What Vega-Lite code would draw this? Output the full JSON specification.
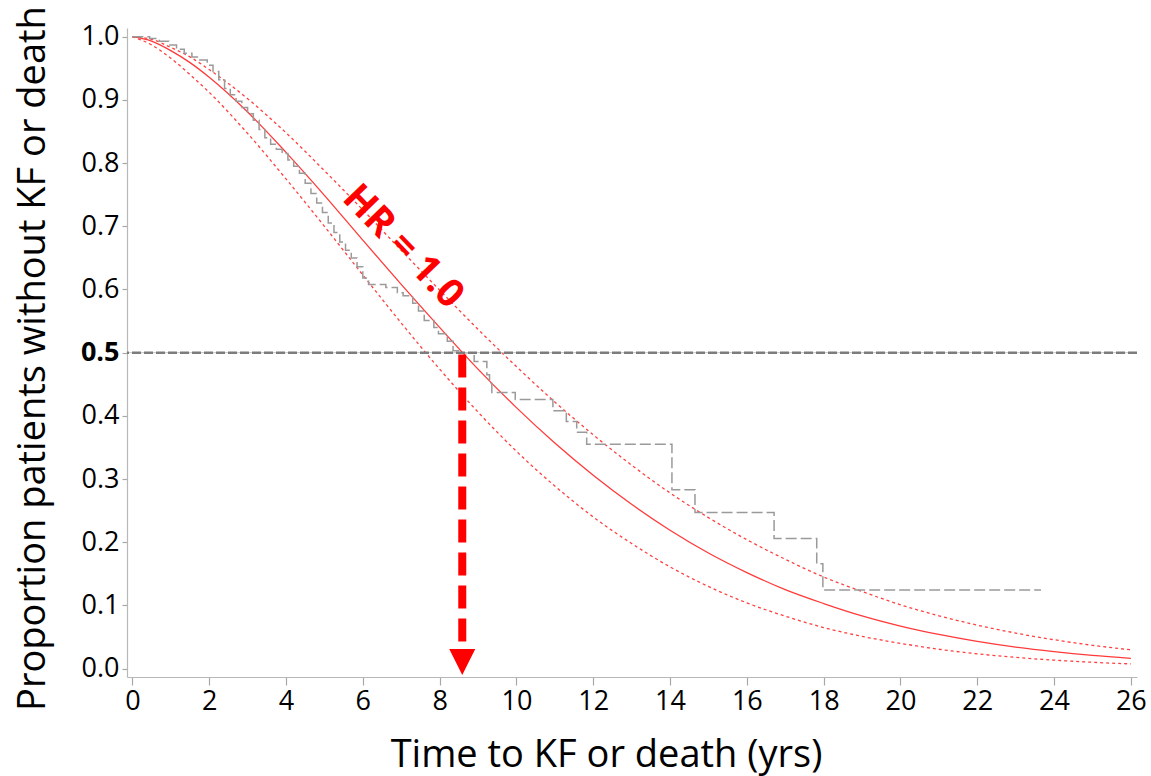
{
  "$schema": "https://vega.github.io/schema/vega-lite/v6.json",
  "width": 1010,
  "height": 649,
  "autosize": {"type": "none"},
  "padding": {"left": 127, "top": 28, "right": 14, "bottom": 99},
  "background": "white",
  "config": {
    "view": {"stroke": null},
    "font": "Open Sans",
    "axis": {
      "grid": false,
      "domainColor": "#b8b8b8",
      "domainWidth": 1.2,
      "tickColor": "#a8a8a8",
      "tickWidth": 1.2,
      "labelColor": "#000000",
      "titleColor": "#000000",
      "labelFont": "Open Sans",
      "titleFont": "Open Sans",
      "labelFontSize": 27,
      "titleFontSize": 38,
      "titleFontWeight": "normal",
      "labelOverlap": false,
      "labelFlush": false
    }
  },
  "datasets": {
    "km": [
      {"t": 0, "S": 1.0}, {"t": 0.45, "S": 0.997}, {"t": 0.7, "S": 0.993}, {"t": 0.95, "S": 0.987},
      {"t": 1.15, "S": 0.98}, {"t": 1.35, "S": 0.974}, {"t": 1.55, "S": 0.968}, {"t": 1.75, "S": 0.963},
      {"t": 1.95, "S": 0.955}, {"t": 2.1, "S": 0.945}, {"t": 2.25, "S": 0.932}, {"t": 2.4, "S": 0.918},
      {"t": 2.55, "S": 0.908}, {"t": 2.7, "S": 0.898}, {"t": 2.85, "S": 0.888}, {"t": 3.0, "S": 0.878},
      {"t": 3.15, "S": 0.868}, {"t": 3.3, "S": 0.853}, {"t": 3.45, "S": 0.84}, {"t": 3.6, "S": 0.83},
      {"t": 3.75, "S": 0.822}, {"t": 3.9, "S": 0.815}, {"t": 4.05, "S": 0.805}, {"t": 4.2, "S": 0.795},
      {"t": 4.35, "S": 0.784}, {"t": 4.5, "S": 0.768}, {"t": 4.65, "S": 0.752}, {"t": 4.8, "S": 0.737},
      {"t": 4.95, "S": 0.722}, {"t": 5.1, "S": 0.705}, {"t": 5.25, "S": 0.69}, {"t": 5.4, "S": 0.675},
      {"t": 5.55, "S": 0.662}, {"t": 5.7, "S": 0.65}, {"t": 5.85, "S": 0.636}, {"t": 6.0, "S": 0.618},
      {"t": 6.15, "S": 0.608}, {"t": 6.6, "S": 0.603}, {"t": 6.9, "S": 0.595}, {"t": 7.05, "S": 0.59},
      {"t": 7.3, "S": 0.578}, {"t": 7.45, "S": 0.566}, {"t": 7.6, "S": 0.551}, {"t": 7.85, "S": 0.54},
      {"t": 7.97, "S": 0.53}, {"t": 8.2, "S": 0.518}, {"t": 8.35, "S": 0.503}, {"t": 8.55, "S": 0.5},
      {"t": 8.9, "S": 0.486}, {"t": 9.23, "S": 0.465}, {"t": 9.3, "S": 0.451}, {"t": 9.36, "S": 0.437},
      {"t": 9.97, "S": 0.426}, {"t": 10.95, "S": 0.408}, {"t": 11.3, "S": 0.391}, {"t": 11.57, "S": 0.374},
      {"t": 11.83, "S": 0.355}, {"t": 14.05, "S": 0.283}, {"t": 14.65, "S": 0.247}, {"t": 16.71, "S": 0.206},
      {"t": 17.82, "S": 0.166}, {"t": 17.98, "S": 0.1245}, {"t": 23.66, "S": 0.1245}
    ],
    "model": [
      {"t": 0, "fit": 1.0, "upper": 1.0, "lower": 1.0},
      {"t": 0.5, "fit": 0.993, "upper": 0.996, "lower": 0.987},
      {"t": 1, "fit": 0.978, "upper": 0.983, "lower": 0.966},
      {"t": 1.5, "fit": 0.959, "upper": 0.968, "lower": 0.940},
      {"t": 2, "fit": 0.936, "upper": 0.948, "lower": 0.912},
      {"t": 3, "fit": 0.881, "upper": 0.902, "lower": 0.847},
      {"t": 4, "fit": 0.817, "upper": 0.848, "lower": 0.775},
      {"t": 5, "fit": 0.749, "upper": 0.788, "lower": 0.700},
      {"t": 6, "fit": 0.678, "upper": 0.726, "lower": 0.623},
      {"t": 7, "fit": 0.608, "upper": 0.662, "lower": 0.547},
      {"t": 8, "fit": 0.540, "upper": 0.599, "lower": 0.474},
      {"t": 9, "fit": 0.474, "upper": 0.537, "lower": 0.406},
      {"t": 10, "fit": 0.413, "upper": 0.478, "lower": 0.344},
      {"t": 11, "fit": 0.357, "upper": 0.422, "lower": 0.289},
      {"t": 12, "fit": 0.306, "upper": 0.370, "lower": 0.240},
      {"t": 13, "fit": 0.260, "upper": 0.322, "lower": 0.198},
      {"t": 14, "fit": 0.219, "upper": 0.278, "lower": 0.161},
      {"t": 15, "fit": 0.183, "upper": 0.239, "lower": 0.130},
      {"t": 16, "fit": 0.152, "upper": 0.204, "lower": 0.104},
      {"t": 17, "fit": 0.125, "upper": 0.173, "lower": 0.083},
      {"t": 18, "fit": 0.103, "upper": 0.145, "lower": 0.065},
      {"t": 19, "fit": 0.0835, "upper": 0.122, "lower": 0.051},
      {"t": 20, "fit": 0.0674, "upper": 0.101, "lower": 0.040},
      {"t": 21, "fit": 0.0541, "upper": 0.0836, "lower": 0.0306},
      {"t": 22, "fit": 0.0431, "upper": 0.0688, "lower": 0.0234},
      {"t": 23, "fit": 0.0341, "upper": 0.0562, "lower": 0.0177},
      {"t": 24, "fit": 0.0269, "upper": 0.0457, "lower": 0.0134},
      {"t": 25, "fit": 0.021, "upper": 0.0369, "lower": 0.010},
      {"t": 26, "fit": 0.0163, "upper": 0.0297, "lower": 0.0074}
    ],
    "one": [{}]
  },
  "encoding": {
    "x": {
      "type": "quantitative",
      "scale": {"domain": [-0.14, 26.16], "nice": false, "zero": false}
    }
  },
  "layer": [
    {
      "data": {"name": "model"},
      "mark": {"type": "line", "color": "#ff4040", "strokeWidth": 1.3, "strokeDash": [3, 3], "interpolate": "monotone"},
      "encoding": {
        "x": {"field": "t", "type": "quantitative",
          "axis": {
            "title": "Time to KF or death (yrs)",
            "values": [0,1,2,3,4,5,6,7,8,9,10,11,12,13,14,15,16,17,18,19,20,21,22,23,24,25,26],
            "labelExpr": "datum.value % 2 === 0 ? datum.label : ''",
            "tickSize": 8,
            "labelPadding": 3,
            "titlePadding": 22,
            "titleX": 479
          }
        },
        "y": {"field": "upper", "type": "quantitative",
          "scale": {"domain": [-0.0133, 1.0138], "nice": false, "zero": false},
          "axis": {
            "title": "Proportion patients without KF or death",
            "values": [0,0.05,0.1,0.15,0.2,0.25,0.3,0.35,0.4,0.45,0.5,0.55,0.6,0.65,0.7,0.75,0.8,0.85,0.9,0.95,1.0],
            "labelExpr": "abs(datum.value * 10 - round(datum.value * 10)) < 0.01 ? format(datum.value, '.1f') : ''",
            "labelFontWeight": {"condition": {"test": "abs(datum.value - 0.5) < 0.001", "value": "bold"}, "value": "normal"},
            "tickSize": 5,
            "labelPadding": 3,
            "titlePadding": 28,
            "titleY": 330
          }
        }
      }
    },
    {
      "data": {"name": "model"},
      "mark": {"type": "line", "color": "#ff4040", "strokeWidth": 1.3, "strokeDash": [3, 3], "interpolate": "monotone"},
      "encoding": {
        "x": {"field": "t", "type": "quantitative"},
        "y": {"field": "lower", "type": "quantitative"}
      }
    },
    {
      "data": {"name": "model"},
      "mark": {"type": "line", "color": "#ff3a3a", "strokeWidth": 1.3, "interpolate": "monotone"},
      "encoding": {
        "x": {"field": "t", "type": "quantitative"},
        "y": {"field": "fit", "type": "quantitative"}
      }
    },
    {
      "data": {"name": "km"},
      "mark": {"type": "line", "color": "#9a9a9a", "strokeWidth": 1.5, "strokeDash": [11, 4], "interpolate": "step-after"},
      "encoding": {
        "x": {"field": "t", "type": "quantitative"},
        "y": {"field": "S", "type": "quantitative"}
      }
    },
    {
      "data": {"name": "one"},
      "mark": {"type": "rule", "color": "#c8c8c8", "strokeWidth": 1},
      "encoding": {"y": {"datum": 0.5, "type": "quantitative"}}
    },
    {
      "data": {"name": "one"},
      "mark": {"type": "rule", "color": "#7c7c7c", "strokeWidth": 2.5, "strokeDash": [9, 3]},
      "encoding": {"y": {"datum": 0.5, "type": "quantitative"}}
    },
    {
      "data": {"name": "one"},
      "mark": {"type": "rule", "color": "#ff0000", "strokeWidth": 8, "strokeDash": [23, 10]},
      "encoding": {
        "x": {"datum": 8.59, "type": "quantitative"},
        "y": {"datum": 0.497, "type": "quantitative"},
        "y2": {"datum": 0.03}
      }
    },
    {
      "data": {"name": "one"},
      "mark": {"type": "point", "shape": "M-1,-1L1,-1L0,1Z", "filled": true, "color": "#ff0000", "opacity": 1, "size": 676, "strokeWidth": 0},
      "encoding": {
        "x": {"datum": 8.59, "type": "quantitative"},
        "y": {"datum": 0.0105, "type": "quantitative"}
      }
    },
    {
      "data": {"name": "one"},
      "mark": {"type": "text", "text": "HR = 1.0", "color": "#ff0000", "font": "Open Sans", "fontSize": 39, "fontWeight": "bold", "angle": 46, "align": "center", "baseline": "middle"},
      "encoding": {
        "x": {"datum": 7.05, "type": "quantitative"},
        "y": {"datum": 0.668, "type": "quantitative"}
      }
    }
  ]
}
